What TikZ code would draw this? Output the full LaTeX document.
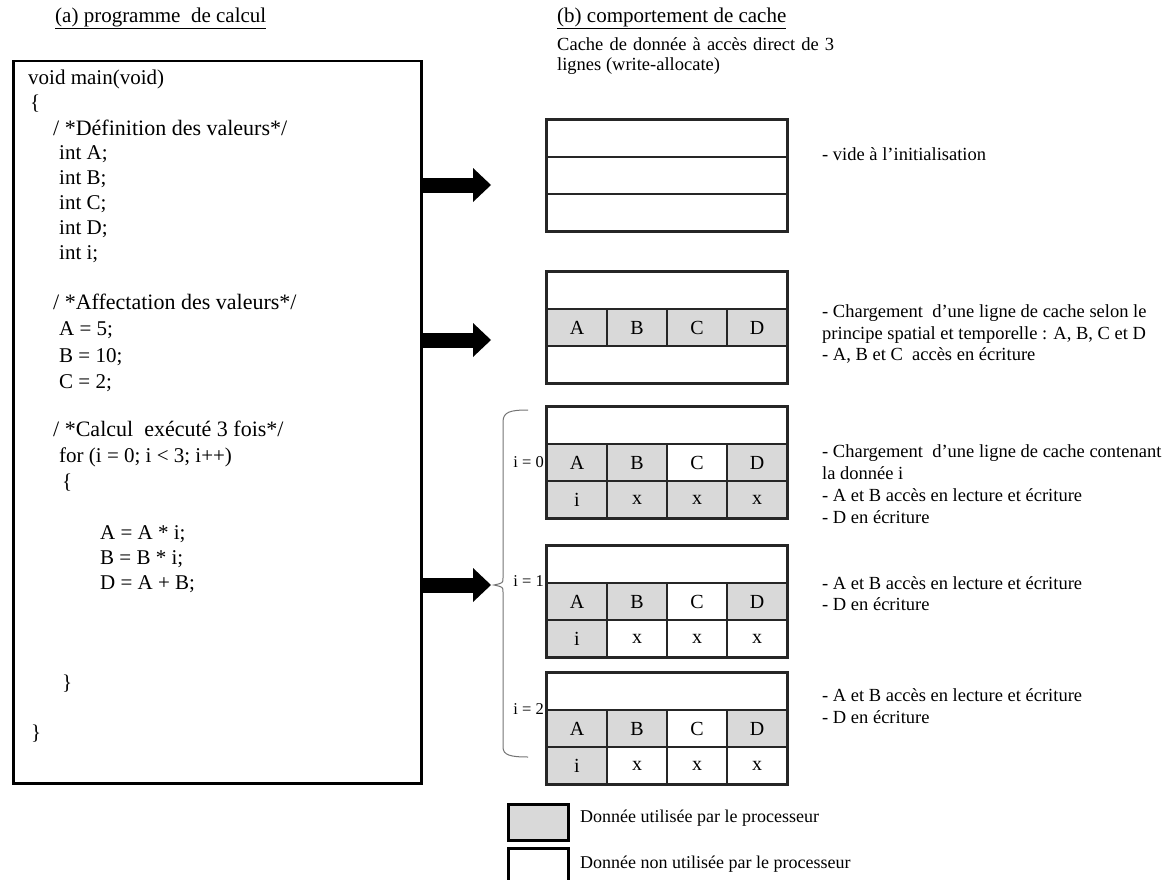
\documentclass[tikz,border=0pt]{standalone}
\usepackage{fontspec}
\setmainfont{Liberation Serif}
\usetikzlibrary{arrows.meta}
\begin{document}
\begin{tikzpicture}[x=1pt,y=-1pt,
  txt/.style={anchor=west, inner sep=0pt, text height=0.7em, text depth=0.2em},
  head/.style={txt, font=\fontsize{21}{25}\selectfont},
  codeline/.style={txt, font=\fontsize{21}{25}\selectfont},
  cmt/.style={txt, font=\fontsize{22}{25}\selectfont},
  note/.style={txt, font=\fontsize{18.5}{21.5}\selectfont},
  legtxt/.style={txt, font=\fontsize{18}{21}\selectfont},
  cell/.style={draw=black!85, line width=1.3pt, minimum width=60pt, minimum height=37pt, inner sep=0pt, font=\fontsize{20}{22}\selectfont},
  wide/.style={cell, minimum width=240pt},
  used/.style={fill=gray!30},
  outer/.style={draw=black!85, line width=2pt},
  blockarrow/.style={line width=15pt, -{Triangle[length=18pt,width=34pt,line width=0pt]}},
  bracepath/.style={draw=black!55, line width=1pt},
  idx/.style={anchor=east, inner sep=0pt, text height=0.7em, text depth=0.2em, font=\fontsize{16.5}{18}\selectfont},
  legbox/.style={draw=black, line width=2.5pt, minimum width=60pt, inner sep=0pt, anchor=north west}
]
\useasboundingbox (0,0) rectangle (1170,880);

% headings
\node[head] (ha) at (55,20) {\underline{(a) programme\ \ de calcul}};
\node[head] (hb) at (557,20) {\underline{(b) comportement de cache}};

% code box
\node[draw, line width=2.5pt, minimum width=408pt, minimum height=722pt, inner sep=0pt, anchor=north west] (code) at (12,60) {};

\node[codeline] (l1) at (28,82) {void main(void)};
\node[codeline] (l2) at (30,107) {\{};
\node[cmt] (l3) at (53,133) {/ *Définition des valeurs*/};
\node[codeline] (l4) at (59,157) {int A;};
\node[codeline] (l5) at (59,182) {int B;};
\node[codeline] (l6) at (59,207) {int C;};
\node[codeline] (l7) at (59,232) {int D;};
\node[codeline] (l8) at (59,257) {int i;};
\node[cmt] (l9) at (53,307) {/ *Affectation des valeurs*/};
\node[codeline] (l10) at (59,333) {A = 5;};
\node[codeline] (l11) at (59,360) {B = 10;};
\node[codeline] (l12) at (59,386) {C = 2;};
\node[cmt] (l13) at (53,434) {/ *Calcul\ \ exécuté 3 fois*/};
\node[codeline] (l14) at (59,460) {for (i = 0; i < 3; i++)};
\node[codeline] (l15) at (62,486) {\{};
\node[codeline] (l16) at (100,537) {A = A * i;};
\node[codeline] (l17) at (100,562) {B = B * i;};
\node[codeline] (l18) at (100,587) {D = A + B;};
\node[codeline] (l19) at (62,687) {\}};
\node[codeline] (l20) at (31,737) {\}};

% cache description
\node[note] (cd1) at (557,48) {\makebox[277pt][s]{Cache de donnée à accès direct de 3}};
\node[note] (cd2) at (557,68) {lignes (write-allocate)};

% cache 1
\node[wide] (c1a) at (667,138.5) {};
\node[wide] (c1b) at (667,175.5) {};
\node[wide] (c1c) at (667,212.5) {};
\draw[outer] (c1a.north west) rectangle (c1c.south east);

% cache 2
\node[wide] (c2a) at (667,290.5) {};
\node[cell,used] (c2A) at (577,327.5) {A};
\node[cell,used] (c2B) at (637,327.5) {B};
\node[cell,used] (c2C) at (697,327.5) {C};
\node[cell,used] (c2D) at (757,327.5) {D};
\node[wide] (c2c) at (667,364.5) {};
\draw[outer] (c2a.north west) rectangle (c2c.south east);

% cache 3 (i = 0)
\node[wide] (c3a) at (667,425.5) {};
\node[cell,used] (c3A) at (577,462.5) {A};
\node[cell,used] (c3B) at (637,462.5) {B};
\node[cell] (c3C) at (697,462.5) {C};
\node[cell,used] (c3D) at (757,462.5) {D};
\node[cell,used] (c3i) at (577,499.5) {i};
\node[cell,used] (c3x1) at (637,499.5) {x};
\node[cell,used] (c3x2) at (697,499.5) {x};
\node[cell,used] (c3x3) at (757,499.5) {x};
\draw[outer] (c3a.north west) rectangle (c3x3.south east);

% cache 4 (i = 1)
\node[wide] (c4a) at (667,564.5) {};
\node[cell,used] (c4A) at (577,601.5) {A};
\node[cell,used] (c4B) at (637,601.5) {B};
\node[cell] (c4C) at (697,601.5) {C};
\node[cell,used] (c4D) at (757,601.5) {D};
\node[cell,used] (c4i) at (577,638.5) {i};
\node[cell] (c4x1) at (637,638.5) {x};
\node[cell] (c4x2) at (697,638.5) {x};
\node[cell] (c4x3) at (757,638.5) {x};
\draw[outer] (c4a.north west) rectangle (c4x3.south east);

% cache 5 (i = 2)
\node[wide] (c5a) at (667,691.5) {};
\node[cell,used] (c5A) at (577,728.5) {A};
\node[cell,used] (c5B) at (637,728.5) {B};
\node[cell] (c5C) at (697,728.5) {C};
\node[cell,used] (c5D) at (757,728.5) {D};
\node[cell,used] (c5i) at (577,765.5) {i};
\node[cell] (c5x1) at (637,765.5) {x};
\node[cell] (c5x2) at (697,765.5) {x};
\node[cell] (c5x3) at (757,765.5) {x};
\draw[outer] (c5a.north west) rectangle (c5x3.south east);

% iteration labels
\node[idx] (i0) at (544,465) {i = 0};
\node[idx] (i1) at (544,584) {i = 1};
\node[idx] (i2) at (544,712) {i = 2};

% brace
\coordinate (btop) at (528,410);
\coordinate (bbot) at (528,757);
\coordinate (btip) at (494,585);
\draw[bracepath] (btop) .. controls (510,410) and (503,412) .. (503,422) -- (503,578)
  .. controls (503,583) .. (btip) .. controls (503,587) .. (503,592) -- (503,747)
  .. controls (503,755) and (510,757) .. (bbot);

% block arrows
\coordinate (a1) at (491,185);
\coordinate (a2) at (491,340);
\coordinate (a3) at (491,585);
\draw[blockarrow] (code.east |- a1) -- (a1);
\draw[blockarrow] (code.east |- a2) -- (a2);
\draw[blockarrow] (code.east |- a3) -- (a3);

% annotations
\node[note] (n1) at (822,158) {- vide à l’initialisation};
\node[note] (n2) at (822,315) {- Chargement\ \ d’une ligne de cache selon le};
\node[note] (n3) at (822,337) {principe spatial et temporelle : A, B, C et D};
\node[note] (n4) at (822,358) {- A, B et C\ \ accès\ en écriture};
\node[note] (n5) at (822,455) {- Chargement\ \ d’une ligne de cache contenant};
\node[note] (n6) at (822,477) {la donnée i};
\node[note] (n7) at (822,499) {- A et B accès en lecture et écriture};
\node[note] (n8) at (822,521) {- D en écriture};
\node[note] (n9) at (822,587) {- A et B accès en lecture et écriture};
\node[note] (n10) at (822,608) {- D en écriture};
\node[note] (n11) at (822,699) {- A et B accès en lecture et écriture};
\node[note] (n12) at (822,721) {- D en écriture};

% legend
\node[legbox, fill=gray!30, minimum height=36pt] (lg1) at (507,803) {};
\node[legbox, minimum height=46pt] (lg2) at (507,847) {};
\node[legtxt] (lt1) at (580,820) {Donnée utilisée par le processeur};
\node[legtxt] (lt2) at (580,866) {Donnée non utilisée par le processeur};
\end{tikzpicture}
\end{document}
